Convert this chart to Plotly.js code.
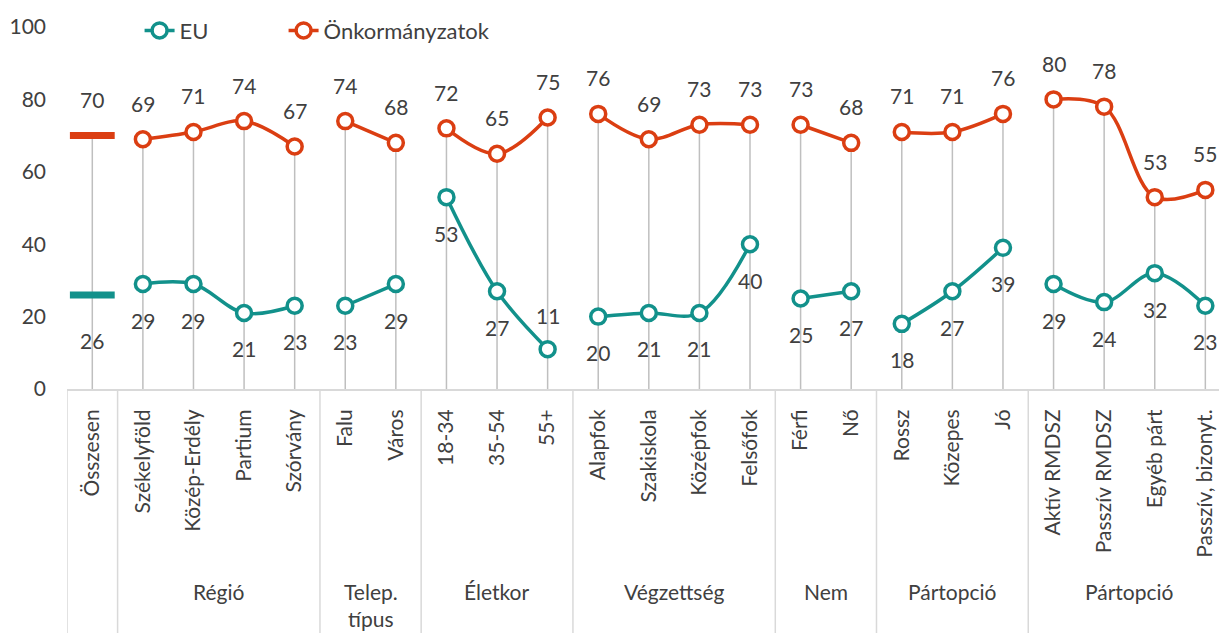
<!DOCTYPE html>
<html>
<head>
<meta charset="utf-8">
<script src="https://cdn.plot.ly/plotly-3.0.1.min.js"></script>
<style>
  html, body { margin: 0; padding: 0; background: #ffffff; }
  #chart { width: 1219px; height: 633px; }
</style>
</head>
<body>
<div id="chart"></div>
<script>
// ---- data ----
var categories = ["Összesen", "Székelyföld", "Közép-Erdély", "Partium", "Szórvány",
  "Falu", "Város", "18-34", "35-54", "55+",
  "Alapfok", "Szakiskola", "Középfok", "Felsőfok",
  "Férfi", "Nő", "Rossz", "Közepes", "Jó",
  "Aktív RMDSZ", "Passzív RMDSZ", "Egyéb párt", "Passzív, bizonyt."];
var euValues  = [26, 29, 29, 21, 23, 23, 29, 53, 27, 11, 20, 21, 21, 40, 25, 27, 18, 27, 39, 29, 24, 32, 23];
var onkValues = [70, 69, 71, 74, 67, 74, 68, 72, 65, 75, 76, 69, 73, 73, 73, 68, 71, 71, 76, 80, 78, 53, 55];
var groupNames = ["", "Régió", "Telep.<br>típus", "Életkor", "Végzettség", "Nem", "Pártopció", "Pártopció"];
var groupSizes = [1, 4, 2, 3, 4, 2, 3, 4];
var seriesNames = ["EU", "Önkormányzatok"];
var yTicks = [0, 20, 40, 60, 80, 100];

// ---- style ----
var TEAL = "#12918B";
var RED = "#DB3E12";
var GREY_LINE = "#BFBFBF";
var AXIS_GREY = "#D9D9D9";
var TEXT = "#404040";
var FONT = "Lato, 'Open Sans', sans-serif";
var FS = 21;
var euLabelAbove = {"55+": true};

// ---- build ----
var idx = categories.map(function (c, i) { return i; });
var groupStart = [];
var s = 0;
groupSizes.forEach(function (n) { groupStart.push(s); s += n; });

function segmented(values) {
  var xs = [], ys = [];
  groupSizes.forEach(function (n, g) {
    if (g === 0) return; // total shown separately
    if (xs.length) { xs.push(null); ys.push(null); }
    for (var k = 0; k < n; k++) {
      var i = groupStart[g] + k;
      xs.push(i); ys.push(values[i]);
    }
  });
  return {x: xs, y: ys};
}

var tops = idx.map(function (i) { return Math.max(euValues[i], onkValues[i]); });

var traces = [];
// drop lines
traces.push({
  x: idx, y: tops, type: "scatter", mode: "markers",
  marker: {size: 1, opacity: 0},
  showlegend: false, hoverinfo: "skip",
  error_y: {type: "data", symmetric: false, array: idx.map(function(){return 0;}),
            arrayminus: tops, width: 0, color: GREY_LINE, thickness: 1.5}
});

var euSeg = segmented(euValues);
var onkSeg = segmented(onkValues);
traces.push({
  x: euSeg.x, y: euSeg.y, name: seriesNames[0], type: "scatter", mode: "lines+markers",
  connectgaps: false, legend: "legend",
  line: {color: TEAL, width: 3.5, shape: "spline", smoothing: 1},
  marker: {symbol: "circle", size: 15, color: "#ffffff", line: {color: TEAL, width: 3.5}},
  cliponaxis: false
});
traces.push({
  x: onkSeg.x, y: onkSeg.y, name: seriesNames[1], type: "scatter", mode: "lines+markers",
  connectgaps: false, legend: "legend2",
  line: {color: RED, width: 3.5, shape: "spline", smoothing: 1},
  marker: {symbol: "circle", size: 15, color: "#ffffff", line: {color: RED, width: 3.5}},
  cliponaxis: false
});
// total dashes
traces.push({
  x: [0], y: [euValues[0]], type: "scatter", mode: "markers", showlegend: false,
  marker: {symbol: "line-ew", size: 32, line: {color: TEAL, width: 7}}, cliponaxis: false
});
traces.push({
  x: [0], y: [onkValues[0]], type: "scatter", mode: "markers", showlegend: false,
  marker: {symbol: "line-ew", size: 32, line: {color: RED, width: 7}}, cliponaxis: false
});

var annotations = [];
idx.forEach(function (i) {
  annotations.push({
    x: i, y: onkValues[i], xref: "x", yref: "y", text: String(onkValues[i]),
    showarrow: false, yshift: 36, font: {family: FONT, size: FS, color: TEXT}
  });
  var above = euLabelAbove[categories[i]];
  annotations.push({
    x: i, y: euValues[i], xref: "x", yref: "y", text: String(euValues[i]),
    showarrow: false, yshift: above ? 34 : (i === 0 ? -46 : -36),
    font: {family: FONT, size: FS, color: TEXT}
  });
});

var plotH = 633 - 27 - 244;
var shapes = [];
var boundaries = [-0.5];
groupStart.forEach(function (st, g) { if (g > 0) boundaries.push(st - 0.5); });
boundaries.push(categories.length - 0.5);
boundaries.forEach(function (b) {
  shapes.push({type: "line", xref: "x", yref: "paper", x0: b, x1: b, y0: 0, y1: -244 / plotH,
               line: {color: AXIS_GREY, width: 1.5}});
});
groupNames.forEach(function (gname, g) {
  if (!gname) return;
  var center = groupStart[g] + (groupSizes[g] - 1) / 2;
  annotations.push({
    x: center, y: (389 - 577) / plotH, xref: "x", yref: "paper", yanchor: "top",
    text: gname, showarrow: false, font: {family: FONT, size: FS, color: TEXT}
  });
});

var legendFont = {family: FONT, size: 22, color: TEXT};
var layout = {
  width: 1219, height: 633,
  margin: {l: 67, r: 0, t: 27, b: 244},
  paper_bgcolor: "#ffffff", plot_bgcolor: "#ffffff",
  font: {family: FONT, size: FS, color: TEXT},
  showlegend: true,
  legend: {orientation: "h", x: 0.063, xanchor: "left", y: 0.99, yanchor: "middle",
           font: legendFont, bgcolor: "rgba(0,0,0,0)"},
  legend2: {orientation: "h", x: 0.188, xanchor: "left", y: 0.99, yanchor: "middle",
           font: legendFont, bgcolor: "rgba(0,0,0,0)"},
  xaxis: {
    range: [-0.5, 22.27], tickmode: "array", tickvals: idx, ticktext: categories,
    tickangle: -90, showgrid: false, zeroline: false, showline: true,
    linecolor: AXIS_GREY, linewidth: 2, ticks: "", ticklabelstandoff: 10,
    tickfont: {family: FONT, size: FS, color: TEXT}, fixedrange: true
  },
  yaxis: {
    range: [0, 100], tickmode: "array", tickvals: yTicks,
    showgrid: false, zeroline: false, showline: false, ticks: "",
    tickfont: {family: FONT, size: FS, color: TEXT}, ticklabelstandoff: 20, fixedrange: true
  },
  shapes: shapes,
  annotations: annotations
};

Plotly.newPlot("chart", traces, layout, {displayModeBar: false, staticPlot: true});
</script>
</body>
</html>
